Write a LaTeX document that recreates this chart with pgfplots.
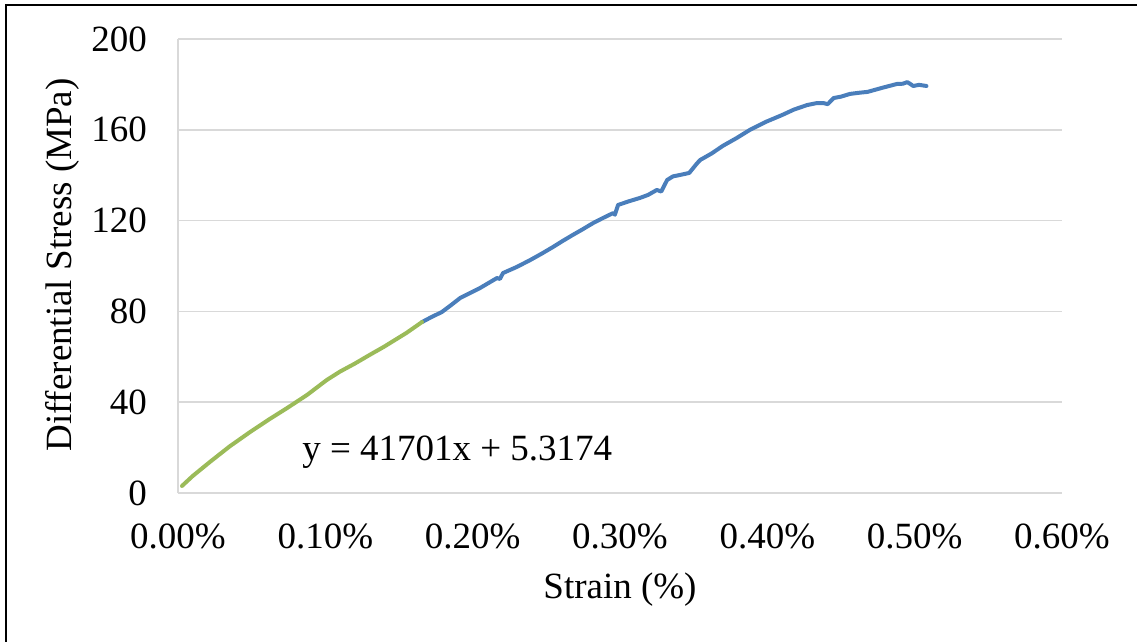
\documentclass[border=0pt]{standalone}
\usepackage{pgfplots}
\pgfplotsset{compat=1.18}
\usepackage{fontspec}
\setmainfont{Liberation Serif}
\definecolor{eblue}{RGB}{74,126,187}
\definecolor{egreen}{RGB}{155,187,89}
\definecolor{egrid}{RGB}{217,217,217}
\begin{document}
\begin{tikzpicture}[x=1pt,y=1pt]
\useasboundingbox (0,0) rectangle (1137,641);
\draw[line width=2pt] (6,-5) -- (6,636) -- (1142,636);
\begin{axis}[
  at={(178pt,148pt)}, anchor=south west,
  scale only axis, width=884pt, height=454pt,
  xmin=0, xmax=0.6, ymin=0, ymax=200,
  axis x line=bottom, axis y line=left,
  axis line style={-, draw=egrid, line width=1.5pt},
  ytick={0,40,80,120,160,200},
  yticklabels={0,40,80,120,160,200},
  xtick={0,0.1,0.2,0.3,0.4,0.5,0.6},
  xticklabels={0.00\%,0.10\%,0.20\%,0.30\%,0.40\%,0.50\%,0.60\%},
  ymajorgrids, grid style={draw=egrid, line width=1.5pt},
  major tick length=0pt,
  /pgf/number format/assume math mode=true,
  tick label style={font=\fontsize{37}{41}\selectfont},
  yticklabel style={anchor=east, inner sep=0pt, xshift=-31pt},
  xticklabel style={anchor=north, inner sep=0pt, yshift=-31pt},
  clip=false,
]
\addplot[eblue, line width=4pt, line join=round, line cap=round] coordinates {
(0.1656,75.3)(0.172,77.5)(0.179,79.7)(0.185,82.6)(0.1915,85.9)(0.198,88.0)(0.205,90.3)(0.211,92.6)(0.2165,94.7)(0.2185,94.3)(0.2206,96.9)(0.23,99.6)(0.239,102.6)(0.247,105.5)(0.2546,108.4)(0.261,111.0)(0.268,113.7)(0.275,116.3)(0.2817,118.9)(0.288,121.0)(0.2953,123.3)(0.2965,122.6)(0.2987,126.9)(0.306,128.5)(0.3136,130.0)(0.319,131.3)(0.325,133.5)(0.328,132.8)(0.332,137.9)(0.336,139.5)(0.34,140.0)(0.347,141.0)(0.352,145.0)(0.3544,146.7)(0.362,149.5)(0.37,153.0)(0.379,156.3)(0.388,159.9)(0.399,163.5)(0.41,166.5)(0.418,168.9)(0.427,170.9)(0.433,171.7)(0.438,171.8)(0.441,171.3)(0.445,174.0)(0.45,174.6)(0.456,175.8)(0.462,176.3)(0.468,176.7)(0.478,178.5)(0.488,180.2)(0.492,180.3)(0.495,181.0)(0.497,180.2)(0.499,179.3)(0.503,179.8)(0.508,179.3)
};
\addplot[egreen, line width=4pt, line join=round, line cap=round] coordinates {
(0.0027,3.1)(0.01,7.5)(0.0217,13.7)(0.035,20.5)(0.049,26.9)(0.062,32.5)(0.074,37.4)(0.0876,43.2)(0.101,49.8)(0.11,53.5)(0.12,57.0)(0.13,60.8)(0.14,64.5)(0.155,70.5)(0.1656,75.3)
};
\node[anchor=west, inner sep=0pt, font=\fontsize{37}{41}\selectfont] at (axis cs:0.0842,18) {y = 41701x + 5.3174};
\end{axis}
\node[rotate=90, inner sep=0pt, font=\fontsize{37}{41}\selectfont] at (62,376) {Differential Stress (MPa)};
\node[inner sep=0pt, font=\fontsize{37}{41}\selectfont] at (620,51) {Strain (\%)};
\end{tikzpicture}
\end{document}
